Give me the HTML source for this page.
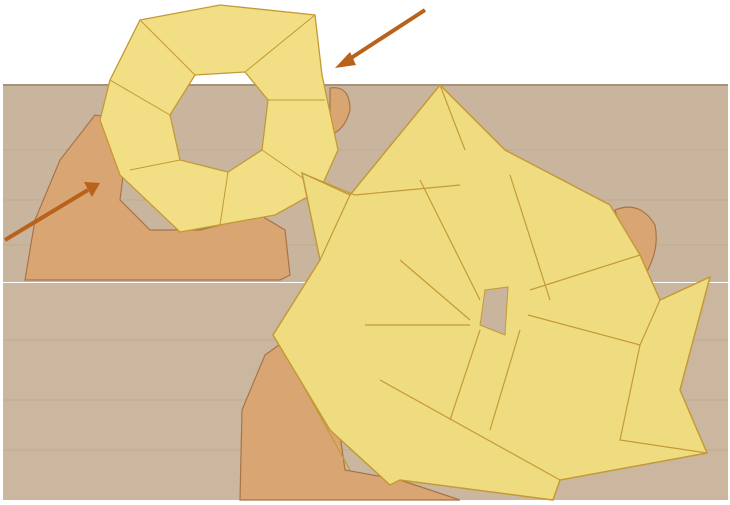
<!DOCTYPE html>
<html><head><meta charset="utf-8"><style>html,body{margin:0;padding:0;background:#fff}svg{display:block}</style></head>
<body>
<svg width="730" height="505" viewBox="0 0 730 505">
<rect x="0" y="0" width="730" height="505" fill="#fff"/>
<g>
<rect x="3" y="84" width="725" height="198" fill="#c9b59d"/>
<rect x="3" y="84" width="725" height="2" fill="#a89279"/>
<path d="M3 150 H728 M3 200 H728 M3 245 H728" stroke="#b9a389" stroke-width="1" opacity="0.6"/>
</g>
<g>
<rect x="3" y="283" width="725" height="217" fill="#cbb79f"/>
<path d="M3 340 H728 M3 400 H728 M3 450 H728" stroke="#b9a389" stroke-width="1" opacity="0.6"/>
</g>
<g fill="#d9a673" stroke="#a87447" stroke-width="1.2">
<path d="M25 280 L35 220 L60 160 L95 115 L115 118 L125 160 L120 200 L150 230 L200 230 L260 215 L285 230 L290 275 L280 280 Z"/>
<path d="M330 88 Q350 85 350 110 Q345 130 330 135 Z"/>
<path d="M615 210 Q640 200 655 225 Q660 250 645 275 L630 260 Z"/>
</g>
<g>
<path fill-rule="evenodd" fill="#f2de84" stroke="#c49a35" stroke-width="1.3"
 d="M140 20 L220 5 L315 15 L322 75 L338 150 L320 190 L275 215 L180 232 L120 175 L100 120 L110 80 Z
    M170 115 L195 75 L245 72 L268 100 L262 150 L228 172 L180 160 Z"/>
<path d="M110 80 L170 115 M140 20 L195 75 M245 72 L315 15 M268 100 L325 100 M262 150 L320 190 M228 172 L220 225 M180 160 L130 170" stroke="#c49a35" stroke-width="1" fill="none"/>
</g>
<g fill="#d9a673" stroke="#a87447" stroke-width="1.2">
<path d="M240 500 L242 410 L265 355 L300 330 L320 340 L335 400 L345 470 L400 480 L460 500 Z"/>
</g>
<g>
<path fill="#f0dc80" stroke="#c49a35" stroke-width="1.5"
 d="M350 195 L440 85 L505 150 L610 205 L640 255 L660 300 L710 277 L680 390 L707 453 L560 480 L553 500 L400 480 L390 485 L330 430 L300 380 L273 335 L320 260 L302 173 Z"/>
<path d="M440 85 L465 150 M302 173 L355 195 L460 185 M320 260 L350 195 M510 175 L550 300 M420 180 L480 300 M400 260 L470 320 M365 325 L470 325 M640 255 L530 290 M528 315 L640 345 L660 300 M640 345 L620 440 L707 453 M380 380 L560 480 M480 330 L450 420 M520 330 L490 430 M300 380 L350 470" stroke="#c49a35" stroke-width="1.2" fill="none"/>
<path d="M485 290 L508 287 L505 335 L480 325 Z" fill="#c9b59d" stroke="#c49a35" stroke-width="1"/>
</g>
<g>
<line x1="425" y1="10" x2="348" y2="60" stroke="#b8621b" stroke-width="4"/>
<polygon points="335,68 350,52 356,65" fill="#b8621b"/>
</g>
<g>
<line x1="5" y1="240" x2="88" y2="190" stroke="#b8621b" stroke-width="4"/>
<polygon points="100,183 84,182 92,197" fill="#b8621b"/>
</g>
</svg>
</body></html>
